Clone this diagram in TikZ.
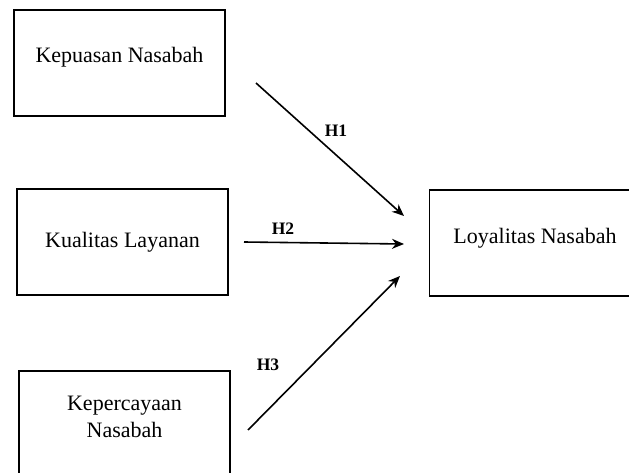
\documentclass[tikz,border=0pt]{standalone}
\usepackage{fontspec}
\setmainfont{Liberation Serif}
\usetikzlibrary{arrows.meta}

\tikzset{
  var/.style={draw,line width=1.6pt,minimum width=211pt,minimum height=106pt,align=center,
    font=\fontsize{22}{27}\selectfont},
  hyp/.style={font=\fontsize{17.5}{20}\selectfont\bfseries},
  link/.style={line width=1.6pt,-{Stealth[length=12pt,width=10pt]}}
}

\begin{document}
\begin{tikzpicture}[x=1pt,y=-1pt]
   \useasboundingbox (0,0) rectangle (629,473);
   \node[var,text depth=16pt] (kep) at (119.5,63) {Kepuasan Nasabah};
   \node[var] (kua) at (122.5,242) {Kualitas Layanan};
   \node[var,text depth=14pt] (kpc) at (124.5,424) {Kepercayaan\\Nasabah};
   \node[var,text depth=14pt] (loy) at (535,243) {Loyalitas Nasabah};
   % arrow ends
   \coordinate (s1) at (256,83);  \coordinate (e1) at (404,216);
   \coordinate (s2) at (244,242); \coordinate (e2) at (404,244);
   \coordinate (s3) at (248,430); \coordinate (e3) at (400,276);
   \draw[link] (s1)--(e1);
   \draw[link] (s2)--(e2);
   \draw[link] (s3)--(e3);
   \node[hyp] (h1) at (336,131) {H1};
   \node[hyp] (h2) at (283,229) {H2};
   \node[hyp] (h3) at (268,365) {H3};
 \end{tikzpicture}
\end{document}
